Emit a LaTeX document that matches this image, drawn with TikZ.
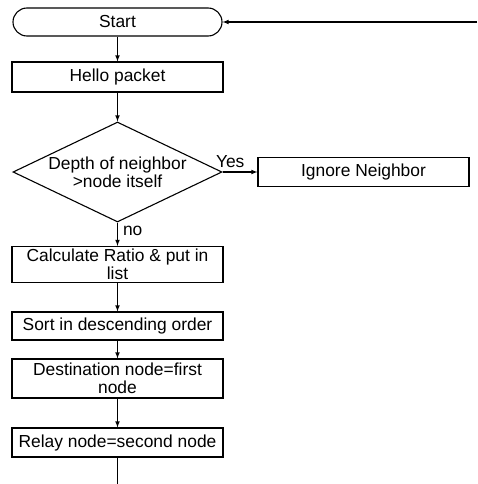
\documentclass[tikz,border=0pt]{standalone}
\usepackage{fontspec}
\setmainfont{Liberation Sans}
\usetikzlibrary{shapes.geometric}

\begin{document}
\begin{tikzpicture}[x=1pt, y=1pt, line width=1.1pt, >=latex,
    every node/.style={font=\fontsize{17.4}{18}\selectfont, align=center, inner sep=0pt},
    box/.style={draw, rectangle, minimum width=211pt},
    term/.style={draw, rectangle, rounded corners=14pt, minimum width=209pt, minimum height=28pt},
    test/.style={draw, diamond, aspect=2.09, minimum width=209pt, minimum height=100pt}]

    \useasboundingbox (0,0) rectangle (477,-484);

    %start
    \node[term] (start) at (117.5,-22) {Start};
    \node[box, minimum height=30pt] (hello) at (117.5,-77) {Hello packet};

    %test
    \node[test, label=center:{Depth of neighbor\\>node itself}] (depth) at (117.5,-172) {};
    \node[box, minimum height=29pt] (ignore) at (363.5,-172) {Ignore Neighbor};

    %liste
    \node[box, minimum height=36pt] (calc) at (117.5,-264.5) {Calculate Ratio \& put in\\list};
    \node[box, minimum height=28pt] (sort) at (117.5,-326) {Sort in descending order};
    \node[box, minimum height=39pt] (dest) at (117.5,-378.5) {Destination node=first\\node};
    \node[box, minimum height=29pt] (relay) at (117.5,-442.5) {Relay node=second node};

    \coordinate (loop) at (477,-22);
    \coordinate (down) at (117.5,-484);

    %fleches
    \draw[->] (start) -- (hello);
    \draw[->] (hello) -- (depth);
    \draw[->] (depth) -- node[above, pos=0.22, yshift=4pt]{Yes} (ignore);
    \draw[->] (depth) -- node[right, pos=0.36, xshift=5pt]{no} (calc);
    \draw[->] (calc) -- (sort);
    \draw[->] (sort) -- (dest);
    \draw[->] (dest) -- (relay);
    \draw[->] (loop) -- (start);
    \draw (relay) -- (down);
\end{tikzpicture}
\end{document}
